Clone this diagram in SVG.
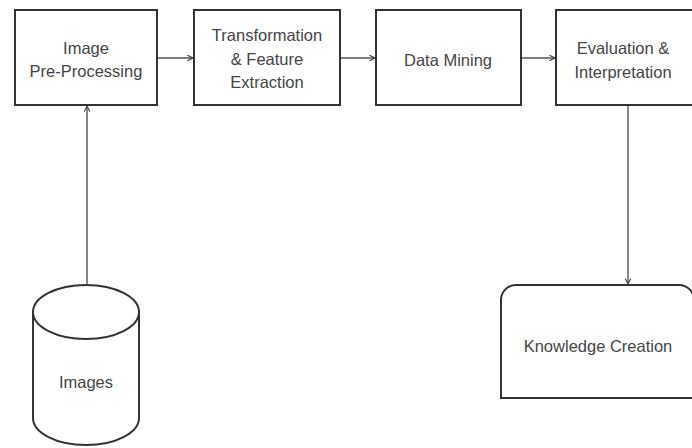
<svg xmlns="http://www.w3.org/2000/svg" width="692" height="448" viewBox="0 0 692 448">
<style>
.box{fill:#ffffff;stroke:#333333;stroke-width:2}
.lbl{font-family:"Liberation Sans",Arial,sans-serif;font-size:16.5px;fill:#454545;text-anchor:middle}
.conn{fill:none;stroke:#555555;stroke-width:1.4}
</style>
<defs>
<marker id="arr" viewBox="0 0 10 10" refX="9" refY="5" markerWidth="7" markerHeight="7" markerUnits="userSpaceOnUse" orient="auto">
<path d="M1,1 L9,5 L1,9" fill="none" stroke="#444444" stroke-width="1.6"/>
</marker>
</defs>
<rect width="692" height="448" fill="#ffffff"/>
<g id="connectors">
<line class="conn" x1="158" y1="58" x2="193" y2="58" marker-end="url(#arr)"/>
<line class="conn" x1="341" y1="58" x2="375" y2="58" marker-end="url(#arr)"/>
<line class="conn" x1="522" y1="58" x2="555" y2="58" marker-end="url(#arr)"/>
<line class="conn" x1="87" y1="285" x2="87" y2="106" marker-end="url(#arr)"/>
<line class="conn" x1="628" y1="106" x2="628" y2="284" marker-end="url(#arr)"/>
</g>
<g id="node-preprocessing">
<rect class="box" x="15" y="10" width="142" height="95"/>
<text class="lbl" x="86" y="54">Image</text>
<text class="lbl" x="86" y="77">Pre-Processing</text>
</g>
<g id="node-transformation">
<rect class="box" x="194" y="10" width="146" height="95"/>
<text class="lbl" x="267" y="41">Transformation</text>
<text class="lbl" x="267" y="65">&amp; Feature</text>
<text class="lbl" x="267" y="88">Extraction</text>
</g>
<g id="node-datamining">
<rect class="box" x="376" y="10" width="145" height="95"/>
<text class="lbl" x="448" y="66">Data Mining</text>
</g>
<g id="node-evaluation">
<rect class="box" x="556" y="10" width="142" height="95"/>
<text class="lbl" x="623" y="54">Evaluation &amp;</text>
<text class="lbl" x="623" y="78">Interpretation</text>
</g>
<g id="node-knowledge">
<path class="box" d="M501,398 V300 A15,15 0 0 1 516,285 H679 A15,15 0 0 1 694,300 V398 Z"/>
<text class="lbl" x="598" y="352">Knowledge Creation</text>
</g>
<g id="node-images">
<path class="box" d="M33,312 A53,27 0 0 1 139,312 V418 A53,27 0 0 1 33,418 Z"/>
<path class="box" fill="none" d="M33,312 A53,27 0 0 0 139,312"/>
<text class="lbl" x="86" y="388">Images</text>
</g>
</svg>
